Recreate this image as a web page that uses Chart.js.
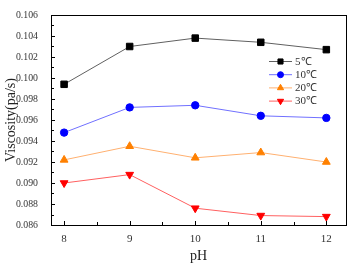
<!DOCTYPE html>
<html>
<head>
<meta charset="utf-8">
<script src="https://cdn.jsdelivr.net/npm/chart.js@4.4.0/dist/chart.umd.min.js"></script>
<style>
  html, body { margin: 0; padding: 0; background: #fff; }
  #wrap { width: 356px; height: 265px; }
</style>
</head>
<body>
<div id="wrap"><canvas id="viscChart" width="356" height="265"></canvas></div>
<script>
// data
const phValues = [8, 9, 10, 11, 12];
const visc5 = [0.0994, 0.1030, 0.1038, 0.1034, 0.1027];
const visc10 = [0.0948, 0.0972, 0.0974, 0.0964, 0.0962];
const visc20 = [0.0922, 0.0935, 0.0924, 0.0929, 0.0920];
const visc30 = [0.0900, 0.0908, 0.0876, 0.0869, 0.0868];
const seriesNames = ['5\u2103', '10\u2103', '20\u2103', '30\u2103'];
const yTickValues = [0.086, 0.088, 0.090, 0.092, 0.094, 0.096, 0.098, 0.100, 0.102, 0.104, 0.106];

const FONT = '"Liberation Serif", "Times New Roman", serif';

function toPoints(vals) {
    return phValues.map((x, i) => ({ x: x, y: vals[i] }));
}

const styles = [
    { line: '#606060', fill: '#000000', shape: 'rect', rot: 0, r: 4.6, lr: 3.6 },
    { line: '#7070ff', fill: '#0000ff', shape: 'circle', rot: 0, r: 3.7, lr: 3 },
    { line: '#ffb070', fill: '#ff8000', shape: 'triangle', rot: 0, r: 4.5, lr: 3.6 },
    { line: '#ff6060', fill: '#ff0000', shape: 'triangle', rot: 180, r: 4.5, lr: 3.6 }
];
const allSeries = [visc5, visc10, visc20, visc30];

// frame, inward ticks and the legend inside the plot
const framePlugin = {
    id: 'frame',
    afterDatasetsDraw(chart) {
        const ctx = chart.ctx;
        const a = chart.chartArea;
        const xs = chart.scales.x;
        const ys = chart.scales.y;
        ctx.save();
        ctx.strokeStyle = '#000';
        ctx.lineWidth = 1;
        ctx.strokeRect(Math.round(a.left) + 0.5, Math.round(a.top) + 0.5,
            Math.round(a.right - a.left), Math.round(a.bottom - a.top));

        ctx.beginPath();
        // y ticks
        for (let v = 0.086; v <= 0.1061; v += 0.001) {
            const py = Math.round(ys.getPixelForValue(v)) + 0.5;
            const major = Math.round(v * 1000) % 2 === 0;
            ctx.moveTo(a.left, py);
            ctx.lineTo(a.left + (major ? 4 : 3), py);
        }
        // x ticks
        for (let v = 8; v <= 12.51; v += 0.5) {
            const px = Math.round(xs.getPixelForValue(v)) + 0.5;
            if (px > a.right) break;
            const major = v % 1 === 0;
            ctx.moveTo(px, a.bottom);
            ctx.lineTo(px, a.bottom - (major ? 4 : 3));
        }
        ctx.stroke();

        // legend
        const lx = 269, ly = 61.5, gap = 13.2;
        ctx.font = '11px ' + FONT;
        ctx.textBaseline = 'middle';
        ctx.textAlign = 'left';
        seriesNames.forEach((name, i) => {
            const s = styles[i];
            const y = ly + i * gap;
            ctx.strokeStyle = s.line;
            ctx.beginPath();
            ctx.moveTo(lx, y);
            ctx.lineTo(lx + 23, y);
            ctx.stroke();
            ctx.fillStyle = s.fill;
            ctx.strokeStyle = s.fill;
            Chart.helpers.drawPoint(ctx, {
                pointStyle: s.shape, radius: s.lr, rotation: s.rot, borderWidth: 1
            }, lx + 11.5, y);
            ctx.fillStyle = '#333';
            ctx.fillText(name, lx + 26, y + 0.5);
        });
        ctx.restore();
    }
};

const datasets = allSeries.map((vals, i) => ({
    label: seriesNames[i],
    data: toPoints(vals),
    borderColor: styles[i].line,
    borderWidth: 1,
    pointStyle: styles[i].shape,
    pointRotation: styles[i].rot,
    pointRadius: styles[i].r,
    pointBackgroundColor: styles[i].fill,
    pointBorderColor: styles[i].fill,
    pointBorderWidth: 1,
    tension: 0
}));

new Chart(document.getElementById('viscChart'), {
    type: 'line',
    data: { datasets: datasets },
    options: {
        responsive: false,
        animation: false,
        events: [],
        layout: { padding: { top: 15, right: 10, left: 0, bottom: 0 } },
        plugins: { legend: { display: false }, tooltip: { enabled: false } },
        scales: {
            x: {
                type: 'linear',
                min: 7.8,
                max: 12.3,
                afterBuildTicks: (scale) => { scale.ticks = phValues.map(v => ({ value: v })); },
                afterFit: (scale) => { scale.height = 40; },
                grid: { display: false },
                border: { display: false },
                ticks: {
                    color: '#333',
                    font: { family: FONT, size: 11 },
                    padding: 0,
                    maxRotation: 0,
                    callback: (v) => String(v)
                },
                title: {
                    display: true,
                    text: 'pH',
                    color: '#222',
                    font: { family: FONT, size: 14 },
                    padding: { top: 0, bottom: 0 }
                }
            },
            y: {
                type: 'linear',
                min: 0.086,
                max: 0.106,
                afterBuildTicks: (scale) => { scale.ticks = yTickValues.map(v => ({ value: v })); },
                afterFit: (scale) => { scale.width = 51; },
                grid: { display: false },
                border: { display: false },
                ticks: {
                    color: '#333',
                    font: { family: FONT, size: 9.8 },
                    padding: 5,
                    callback: (v) => v.toFixed(3)
                },
                title: {
                    display: true,
                    text: 'Viscosity(pa/s)',
                    color: '#222',
                    font: { family: FONT, size: 14, lineHeight: 1 },
                    padding: { top: 4, bottom: 0 }
                }
            }
        }
    },
    plugins: [framePlugin]
});
</script>
</body>
</html>
